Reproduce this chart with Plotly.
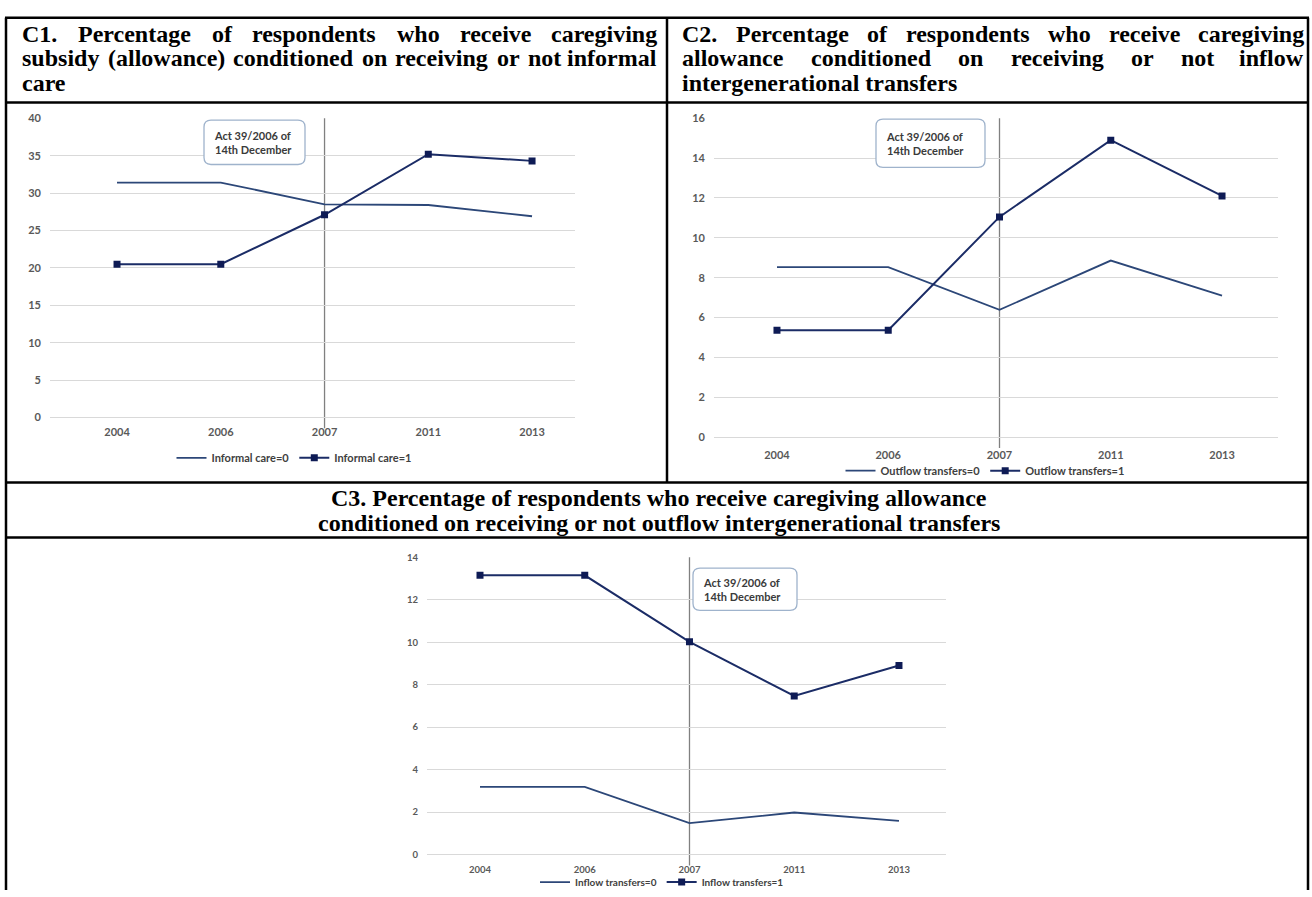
import plotly.graph_objects as go

W, H = 1312, 897

# ---------------- data ----------------
years = ["2004", "2006", "2007", "2011", "2013"]
reform_year = "2007"

c1_informal0 = [31.4, 31.4, 28.5, 28.4, 26.9]
c1_informal1 = [20.5, 20.5, 27.1, 35.2, 34.3]
c2_outflow0 = [8.53, 8.53, 6.39, 8.86, 7.10]
c2_outflow1 = [5.37, 5.37, 11.05, 14.90, 12.10]
c3_inflow0 = [3.19, 3.19, 1.48, 1.98, 1.59]
c3_inflow1 = [13.15, 13.15, 10.02, 7.47, 8.90]

c1_names = ["Informal care=0", "Informal care=1"]
c2_names = ["Outflow transfers=0", "Outflow transfers=1"]
c3_names = ["Inflow transfers=0", "Inflow transfers=1"]

c1_yticks = [0, 5, 10, 15, 20, 25, 30, 35, 40]
c2_yticks = [0, 2, 4, 6, 8, 10, 12, 14, 16]
c3_yticks = [0, 2, 4, 6, 8, 10, 12, 14]

act_label = "Act 39/2006 of<br>14th December"

c1_title = ["C1. Percentage of respondents who receive caregiving",
            "subsidy (allowance) conditioned on receiving or not informal",
            "care"]
c2_title = ["C2. Percentage of respondents who receive caregiving",
            "allowance conditioned on receiving or not inflow",
            "intergenerational transfers"]
c3_title = ["C3. Percentage of respondents who receive caregiving allowance",
            "conditioned on receiving or not outflow intergenerational transfers"]

# ---------------- styles ----------------
C0 = "#2c4778"
C1 = "#1b2c66"
MK = "#0e1b55"
GRID = "#d9d9d9"
TICKC = "#595959"
SANS = "Lato"
SERIF = "Liberation Serif"


def px(x):
    return x / W


def py(y):
    return 1 - y / H


fig = go.Figure()

# panel geometry in window pixels
panels = {
    "1": dict(x0=50, x1=575, yt=113, yb=417, xr=[-0.646, 4.414], xs=7, fs=11),
    "2": dict(x0=714, x1=1278, yt=113, yb=437, xr=[-0.566, 4.503], xs=10, fs=11),
    "3": dict(x0=427, x1=946, yt=559, yb=861, xr=[-0.506, 4.449], xs=8, fs=9.5),
}

series = [
    ("1", c1_names, c1_informal0, c1_informal1, c1_yticks, "legend"),
    ("2", c2_names, c2_outflow0, c2_outflow1, c2_yticks, "legend2"),
    ("3", c3_names, c3_inflow0, c3_inflow1, c3_yticks, "legend3"),
]

for key, names, s0, s1, yt, leg in series:
    xa = "x" if key == "1" else "x" + key
    ya = "y" if key == "1" else "y" + key
    p = panels[key]
    fs = p["fs"]
    fig.add_trace(go.Scatter(x=years, y=s0, name=names[0], mode="lines",
                             line=dict(color=C0, width=1.8),
                             xaxis=xa, yaxis=ya, legend=leg))
    fig.add_trace(go.Scatter(x=years, y=s1, name=names[1], mode="lines+markers",
                             line=dict(color=C1, width=2),
                             marker=dict(symbol="square", size=7, color=MK),
                             xaxis=xa, yaxis=ya, legend=leg))
    xname = "xaxis" if key == "1" else "xaxis" + key
    yname = "yaxis" if key == "1" else "yaxis" + key
    fig.layout[xname] = dict(
        domain=[px(p["x0"]), px(p["x1"])], anchor=ya, type="category",
        categoryorder="array", categoryarray=years, range=p["xr"],
        showgrid=False, showline=False, zeroline=False, ticks="",
        tickfont=dict(family=SANS, size=fs, color=TICKC, weight="bold"),
        ticklabelstandoff=p["xs"], fixedrange=True)
    fig.layout[yname] = dict(
        domain=[py(p["yb"]), py(p["yt"])], anchor=xa,
        range=[0, max(yt)], tickvals=yt, showgrid=True, gridcolor=GRID,
        gridwidth=1, zeroline=True, zerolinecolor=GRID, zerolinewidth=1,
        showline=False, ticks="",
        tickfont=dict(family=SANS, size=fs, color=TICKC, weight="bold"),
        ticklabelstandoff=8, fixedrange=True)
    # reform line at 2007
    fig.add_shape(type="line", xref=xa, yref="paper",
                  x0=years.index(reform_year), x1=years.index(reform_year),
                  y0=py(p["yb"] + 11), y1=py(p["yt"]),
                  line=dict(color="#808080", width=1.3), layer="between")

legend_style = dict(orientation="h", xanchor="center", yanchor="middle",
                    bgcolor="rgba(0,0,0,0)", itemwidth=30,
                    font=dict(family=SANS, size=11, color="#404040", weight="bold"))
fig.update_layout(
    legend=dict(x=px(294), y=py(458), **legend_style),
    legend2=dict(x=px(985), y=py(471), **legend_style),
    legend3=dict(x=px(662), y=py(889), **{**legend_style,
                 "font": dict(family=SANS, size=10, color="#404040", weight="bold")}),
)

# ---------------- table borders ----------------
LINE = dict(color="black", width=2.5)
for yy in [11, 97, 483, 539]:
    fig.add_shape(type="line", xref="paper", yref="paper",
                  x0=px(5), x1=px(1309), y0=py(yy), y1=py(yy), line=LINE)
for xx, ya_, yb_ in [(6, 11, 897), (1308, 11, 897), (667, 11, 483)]:
    fig.add_shape(type="line", xref="paper", yref="paper",
                  x0=px(xx), x1=px(xx), y0=py(ya_), y1=py(yb_), line=LINE)

# ---------------- headings ----------------
TB = {" ": 250, "(": 333, ")": 333, ".": 250, "/": 278, "=": 570,
      "0": 500, "1": 500, "2": 500, "3": 500, "4": 500, "5": 500,
      "6": 500, "7": 500, "8": 500, "9": 500,
      "C": 722, "P": 611,
      "a": 500, "b": 556, "c": 444, "d": 556, "e": 444, "f": 333, "g": 500,
      "h": 556, "i": 278, "j": 333, "k": 556, "l": 278, "m": 833, "n": 556,
      "o": 500, "p": 556, "q": 556, "r": 444, "s": 389, "t": 333, "u": 556,
      "v": 500, "w": 722, "x": 500, "y": 500, "z": 444}
HFS = 24


def tw(s, size):
    return sum(TB.get(ch, 500) for ch in s) * size / 1000


def head_text(text, x, y, anchor):
    fig.add_annotation(text="<b>" + text + "</b>", x=px(x), y=py(y),
                       xref="paper", yref="paper", xanchor=anchor,
                       yanchor="middle", showarrow=False, borderpad=0,
                       font=dict(family=SERIF, size=HFS, color="black"))


def justified(text, xl, xr, y):
    words = text.split(" ")
    widths = [tw(w, HFS) for w in words]
    gap = (xr - xl - sum(widths)) / (len(words) - 1)
    x = xl
    for i, w in enumerate(words):
        if i == len(words) - 1:
            head_text(w, xr, y, "right")
        else:
            head_text(w, x, y, "left")
        x += widths[i] + gap


line_y = [27, 52, 77]
for title, xl, xr in [(c1_title, 21, 658), (c2_title, 681, 1305)]:
    for i, t in enumerate(title):
        if i < len(title) - 1:
            justified(t, xl, xr, line_y[i])
        else:
            head_text(t, xl, line_y[i], "left")

for i, t in enumerate(c3_title):
    head_text(t, 659, [499, 524][i], "center")


# ---------------- act boxes ----------------
def rounded_box(x0, y0, x1, y1, r=7):
    def P(x, y):
        return f"{px(x):.5f},{py(y):.5f}"
    path = (f"M {P(x0 + r, y0)} L {P(x1 - r, y0)} Q {P(x1, y0)} {P(x1, y0 + r)} "
            f"L {P(x1, y1 - r)} Q {P(x1, y1)} {P(x1 - r, y1)} L {P(x0 + r, y1)} "
            f"Q {P(x0, y1)} {P(x0, y1 - r)} L {P(x0, y0 + r)} Q {P(x0, y0)} {P(x0 + r, y0)} Z")
    fig.add_shape(type="path", path=path, xref="paper", yref="paper",
                  line=dict(color="#9fb3cc", width=1.3), fillcolor="white",
                  layer="above")
    fig.add_annotation(text=act_label, x=px(x0 + 8), y=py((y0 + y1) / 2),
                       xref="paper", yref="paper", xanchor="left",
                       yanchor="middle", align="left", showarrow=False,
                       font=dict(family=SANS, size=11, color="#3a3a3a", weight="bold"))


rounded_box(204, 115, 305, 160)
rounded_box(876, 114, 985, 163)
rounded_box(693, 570, 797, 613)

fig.update_layout(width=W, height=H, autosize=False,
                  margin=dict(l=0, r=0, t=0, b=0),
                  paper_bgcolor="white", plot_bgcolor="white",
                  showlegend=True)

# remove the browser's default 8px body margin so the figure fills the window
fig.write_html("out.html",
               config={"displayModeBar": False},
               post_script="document.body.style.margin='0px';"
                           "document.body.style.overflow='hidden';")
